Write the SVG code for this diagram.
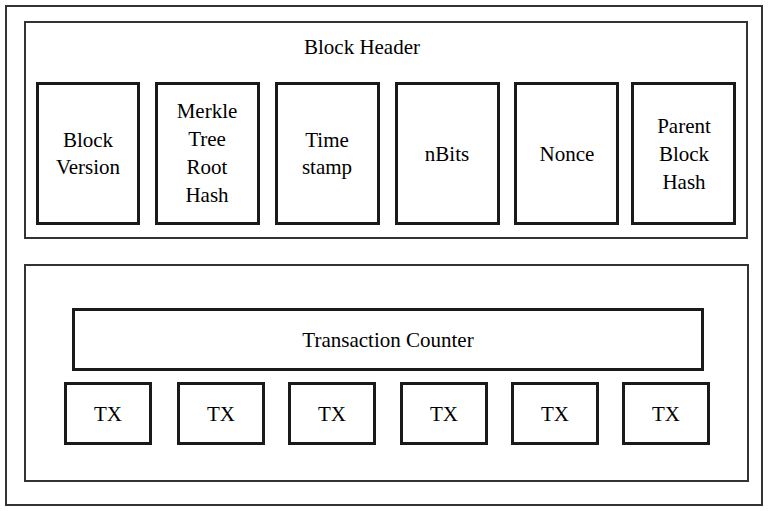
<svg xmlns="http://www.w3.org/2000/svg" width="768" height="511" viewBox="0 0 768 511">
<style>
.frame{fill:#fff;stroke:#333;stroke-width:2}
.box{fill:#fff;stroke:#1a1a1a;stroke-width:3}
</style>
<rect width="768" height="511" fill="#fff"/>
<g id="block"><rect class="frame" x="6" y="6" width="756" height="499"/></g>
<g id="header"><rect class="frame" x="25" y="22" width="722" height="216"/><text x="362" y="54" text-anchor="middle" font-size="21" font-family="Liberation Serif">Block Header</text></g>
<g id="version"><rect class="box" x="37.5" y="83.5" width="101" height="140"/><text x="88" y="147" text-anchor="middle" font-size="21" font-family="Liberation Serif">Block</text><text x="88" y="174" text-anchor="middle" font-size="21" font-family="Liberation Serif">Version</text></g>
<g id="merkle"><rect class="box" x="156.5" y="83.5" width="102" height="140"/><text x="207" y="118" text-anchor="middle" font-size="21" font-family="Liberation Serif">Merkle</text><text x="207" y="146" text-anchor="middle" font-size="21" font-family="Liberation Serif">Tree</text><text x="207" y="174" text-anchor="middle" font-size="21" font-family="Liberation Serif">Root</text><text x="207" y="202" text-anchor="middle" font-size="21" font-family="Liberation Serif">Hash</text></g>
<g id="timestamp"><rect class="box" x="276.5" y="83.5" width="102" height="140"/><text x="327" y="147" text-anchor="middle" font-size="21" font-family="Liberation Serif">Time</text><text x="327" y="174" text-anchor="middle" font-size="21" font-family="Liberation Serif">stamp</text></g>
<g id="nbits"><rect class="box" x="396.5" y="83.5" width="102" height="140"/><text x="447" y="161" text-anchor="middle" font-size="21" font-family="Liberation Serif">nBits</text></g>
<g id="nonce"><rect class="box" x="515.5" y="83.5" width="102" height="140"/><text x="567" y="161" text-anchor="middle" font-size="21" font-family="Liberation Serif">Nonce</text></g>
<g id="parent"><rect class="box" x="632.5" y="83.5" width="102" height="140"/><text x="684" y="133" text-anchor="middle" font-size="21" font-family="Liberation Serif">Parent</text><text x="684" y="161" text-anchor="middle" font-size="21" font-family="Liberation Serif">Block</text><text x="684" y="189" text-anchor="middle" font-size="21" font-family="Liberation Serif">Hash</text></g>
<g id="body"><rect class="frame" x="25" y="265" width="723" height="216"/></g>
<g id="counter"><rect class="box" x="73.5" y="309.5" width="629" height="60"/><text x="388" y="347" text-anchor="middle" font-size="21" font-family="Liberation Serif">Transaction Counter</text></g>
<g id="tx1"><rect class="box" x="65.5" y="383.5" width="85" height="60"/><text x="108" y="421" text-anchor="middle" font-size="21" font-family="Liberation Serif">TX</text></g>
<g id="tx2"><rect class="box" x="178.5" y="383.5" width="85" height="60"/><text x="221" y="421" text-anchor="middle" font-size="21" font-family="Liberation Serif">TX</text></g>
<g id="tx3"><rect class="box" x="289.5" y="383.5" width="85" height="60"/><text x="332" y="421" text-anchor="middle" font-size="21" font-family="Liberation Serif">TX</text></g>
<g id="tx4"><rect class="box" x="401.5" y="383.5" width="85" height="60"/><text x="444" y="421" text-anchor="middle" font-size="21" font-family="Liberation Serif">TX</text></g>
<g id="tx5"><rect class="box" x="512.5" y="383.5" width="85" height="60"/><text x="555" y="421" text-anchor="middle" font-size="21" font-family="Liberation Serif">TX</text></g>
<g id="tx6"><rect class="box" x="623.5" y="383.5" width="85" height="60"/><text x="666" y="421" text-anchor="middle" font-size="21" font-family="Liberation Serif">TX</text></g>
<g id="connectors"></g>
</svg>
